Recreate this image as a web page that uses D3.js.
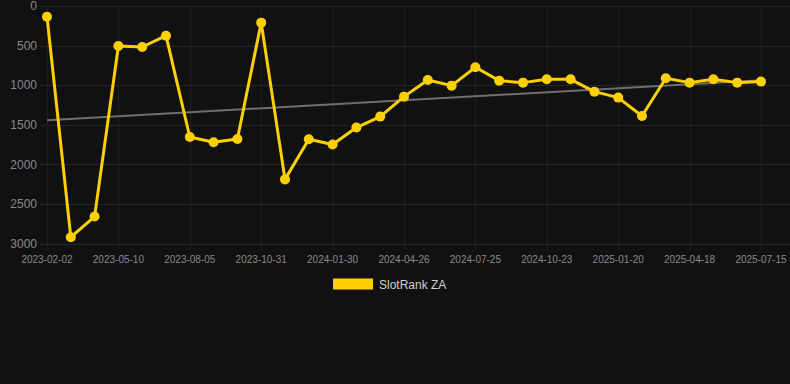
<!DOCTYPE html>
<html>
<head>
<meta charset="utf-8">
<script src="https://cdn.jsdelivr.net/npm/d3@7"></script>
<style>
  html, body { margin: 0; padding: 0; background: #111111; }
  svg { display: block; font-family: "Liberation Sans", Arial, sans-serif; }
</style>
</head>
<body>
<div id="chart"></div>
<script>
// dates of each observation (labelled ones read from the axis, others estimated)
const dates = [
  "2023-02-02", "2023-03-05", "2023-04-07", "2023-05-10", "2023-06-08", "2023-07-07",
  "2023-08-05", "2023-09-03", "2023-10-02", "2023-10-31", "2023-11-30", "2023-12-31",
  "2024-01-30", "2024-02-28", "2024-03-28", "2024-04-26", "2024-05-26", "2024-06-25",
  "2024-07-25", "2024-08-24", "2024-09-23", "2024-10-23", "2024-11-21", "2024-12-21",
  "2025-01-20", "2025-02-18", "2025-03-19", "2025-04-18", "2025-05-17", "2025-06-15",
  "2025-07-15"
];
const rankZA = [
  135, 2920, 2660, 505, 518, 375,
  1655, 1720, 1680, 210, 2190, 1683,
  1750, 1535, 1397, 1145, 934, 1006,
  774, 943, 968, 926, 926, 1082,
  1157, 1389, 913, 968, 926, 968,
  955
];
const yTicks = [0, 500, 1000, 1500, 2000, 2500, 3000];
const seriesName = "SlotRank ZA";

const width = 790, height = 384;
const margin = { top: 6, right: 29, bottom: 140.5, left: 47 };

const svg = d3.select("#chart").append("svg")
  .attr("width", width)
  .attr("height", height);

const x = d3.scalePoint()
  .domain(dates)
  .range([margin.left, width - margin.right]);

const y = d3.scaleLinear()
  .domain([0, 3000])
  .range([margin.top, height - margin.bottom]);

// grid
const tickDates = dates.filter((d, i) => i % 3 === 0);

svg.append("g")
  .selectAll("line")
  .data(yTicks)
  .enter()
  .append("line")
  .attr("x1", 40)
  .attr("x2", width)
  .attr("y1", d => Math.round(y(d)) + 0.5)
  .attr("y2", d => Math.round(y(d)) + 0.5)
  .attr("stroke", "#252525")
  .attr("stroke-width", 1);

svg.append("g")
  .selectAll("line")
  .data(tickDates)
  .enter()
  .append("line")
  .attr("x1", d => Math.round(x(d)) + 0.5)
  .attr("x2", d => Math.round(x(d)) + 0.5)
  .attr("y1", margin.top)
  .attr("y2", y(3000) + 6)
  .attr("stroke", "#1f1f1f")
  .attr("stroke-width", 1);

// y axis labels
svg.append("g")
  .selectAll("text")
  .data(yTicks)
  .enter()
  .append("text")
  .attr("x", 37)
  .attr("y", d => y(d))
  .attr("dy", "0.35em")
  .attr("text-anchor", "end")
  .attr("font-size", 12)
  .attr("fill", "#8a8a8a")
  .text(d => d);

// x axis labels
svg.append("g")
  .selectAll("text")
  .data(tickDates)
  .enter()
  .append("text")
  .attr("x", d => x(d))
  .attr("y", 263)
  .attr("text-anchor", "middle")
  .attr("font-size", 10)
  .attr("fill", "#8a8a8a")
  .text(d => d);

// linear trend (least squares over the points)
const n = rankZA.length;
const xs = d3.range(n);
const mx = d3.mean(xs), my = d3.mean(rankZA);
const slope = d3.sum(xs, i => (i - mx) * (rankZA[i] - my)) / d3.sum(xs, i => (i - mx) * (i - mx));
const intercept = my - slope * mx;

svg.append("line")
  .attr("x1", x(dates[0]))
  .attr("x2", x(dates[n - 1]))
  .attr("y1", y(intercept))
  .attr("y2", y(intercept + slope * (n - 1)))
  .attr("stroke", "#6f6f6f")
  .attr("stroke-width", 2);

// series line
const line = d3.line()
  .x((d, i) => x(dates[i]))
  .y(d => y(d));

svg.append("path")
  .datum(rankZA)
  .attr("d", line)
  .attr("fill", "none")
  .attr("stroke", "#FFD000")
  .attr("stroke-width", 3)
  .attr("stroke-linejoin", "round");

svg.append("g")
  .selectAll("circle")
  .data(rankZA)
  .enter()
  .append("circle")
  .attr("cx", (d, i) => x(dates[i]))
  .attr("cy", d => y(d))
  .attr("r", 5)
  .attr("fill", "#FFD000");

// legend
const legend = svg.append("g");
legend.append("rect")
  .attr("x", 333)
  .attr("y", 278.5)
  .attr("width", 40)
  .attr("height", 11)
  .attr("fill", "#FFD000");
legend.append("text")
  .attr("x", 379)
  .attr("y", 288.5)
  .attr("font-size", 12)
  .attr("fill", "#d0d0d0")
  .text(seriesName);
</script>
</body>
</html>
